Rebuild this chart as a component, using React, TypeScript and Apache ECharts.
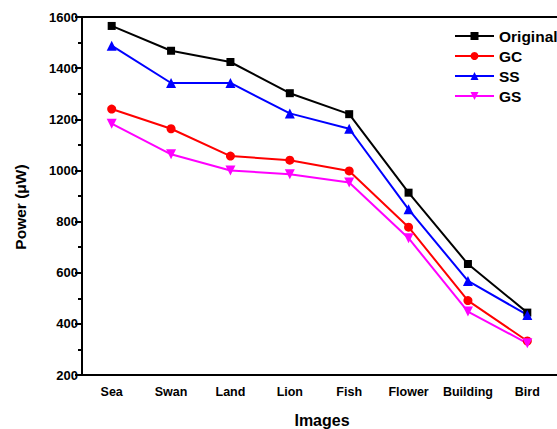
import React, { useEffect, useRef } from "react";
import * as echarts from "echarts";

const categories = ["Sea", "Swan", "Land", "Lion", "Fish", "Flower", "Building", "Bird"];
const original = [1565, 1468, 1424, 1302, 1220, 913, 634, 444];
const gc = [1240, 1163, 1056, 1040, 998, 778, 491, 333];
const ss = [1488, 1342, 1342, 1223, 1163, 848, 568, 435];
const gs = [1183, 1063, 1000, 985, 953, 735, 448, 324];
const yTicks = { min: 200, max: 1600, interval: 200 };

const FONT = "'Liberation Sans', Arial, sans-serif";

export default function App() {
  const ref = useRef<HTMLDivElement>(null);
  useEffect(() => {
    if (!ref.current) return;
    const chart = echarts.init(ref.current, null, { renderer: "svg" });
    const mk = (name: string, data: number[], color: string, symbol: string, size: number, rotate = 0) => ({
      name,
      type: "line",
      data,
      xAxisIndex: 0,
      yAxisIndex: 0,
      symbol,
      symbolSize: size,
      symbolRotate: rotate,
      lineStyle: { color, width: 2 },
      itemStyle: { color },
      z: 3,
    });
    chart.setOption({
      animation: false,
      backgroundColor: "#ffffff",
      textStyle: { fontFamily: FONT },
      grid: { left: 82, top: 17, width: 480, height: 358 },
      legend: {
        orient: "vertical",
        left: 454,
        top: 28,
        padding: 0,
        itemWidth: 39,
        itemHeight: 10,
        itemGap: 4,
        textStyle: { fontFamily: FONT, fontWeight: "bold", fontSize: 15.5, color: "#000" },
        data: ["Original", "GC", "SS", "GS"],
      },
      xAxis: [
        {
          type: "category",
          data: categories,
          position: "bottom",
          boundaryGap: true,
          axisLine: { lineStyle: { color: "#000", width: 2 } },
          axisTick: { alignWithLabel: true, interval: 0, length: 7, lineStyle: { color: "#000", width: 2 } },
          axisLabel: { interval: 0, fontFamily: FONT, fontWeight: "bold", fontSize: 12.5, color: "#000", margin: 10 },
          splitLine: { show: false },
        },
        {
          type: "category",
          data: categories,
          position: "bottom",
          boundaryGap: true,
          axisLine: { show: false },
          axisTick: { alignWithLabel: false, interval: 0, length: 4, lineStyle: { color: "#000", width: 2 } },
          axisLabel: { show: false },
          splitLine: { show: false },
        },
        {
          type: "category",
          data: categories,
          position: "top",
          boundaryGap: true,
          axisLine: { lineStyle: { color: "#000", width: 2 } },
          axisTick: { inside: true, alignWithLabel: false, interval: 0, length: 3, lineStyle: { color: "#000", width: 1 } },
          axisLabel: { show: false },
          splitLine: { show: false },
        },
      ],
      yAxis: {
        type: "value",
        min: yTicks.min,
        max: yTicks.max,
        interval: yTicks.interval,
        axisLine: { show: true, lineStyle: { color: "#000", width: 2 } },
        axisTick: { show: true, length: 7, lineStyle: { color: "#000", width: 2 } },
        minorTick: { show: true, splitNumber: 2, length: 4, lineStyle: { color: "#000", width: 2 } },
        axisLabel: {
          fontFamily: FONT,
          fontWeight: "bold",
          fontSize: 13,
          color: "#000",
          margin: 4,
          formatter: (v: number) => String(v),
        },
        splitLine: { show: false },
        minorSplitLine: { show: false },
      },
      graphic: [
        {
          type: "text",
          x: 20,
          y: 207,
          rotation: Math.PI / 2,
          style: {
            text: "Power (\u03bcW)",
            fontFamily: FONT,
            fontWeight: "bold",
            fontSize: 15.5,
            fill: "#000",
            align: "center",
            verticalAlign: "middle",
          },
        },
        {
          type: "text",
          x: 322,
          y: 420,
          style: {
            text: "Images",
            fontFamily: FONT,
            fontWeight: "bold",
            fontSize: 16,
            fill: "#000",
            align: "center",
            verticalAlign: "middle",
          },
        },
      ],
      series: [
        mk("Original", original, "#000000", "rect", 8),
        mk("GC", gc, "#ff0000", "circle", 9),
        mk("SS", ss, "#0000ff", "triangle", 10),
        mk("GS", gs, "#ff00ff", "triangle", 10, 180),
      ],
    });
    return () => chart.dispose();
  }, []);
  return (
    <div
      ref={ref}
      style={{ position: "fixed", left: 0, top: 0, width: 557, height: 429, background: "#fff" }}
    />
  );
}
